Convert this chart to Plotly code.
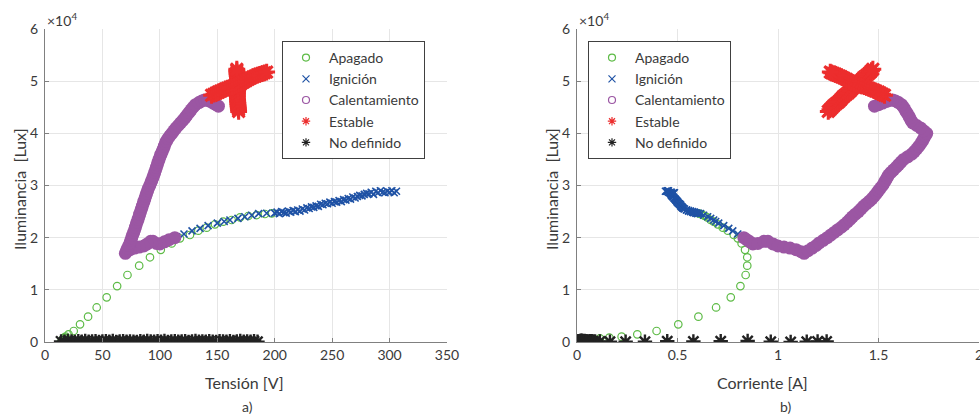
import plotly.graph_objects as go

# ---------------- data ----------------
# Apagado (lamp off): voltage [V], current [A], illuminance [lux]
apagado_v = [14, 14.5, 15, 15.5, 16, 16.8, 18, 20.5, 25, 30.5, 37.5, 45, 53.7, 62.8, 71.8, 82, 91.4,
             100.8, 110.3, 117.5, 126.2, 133.5, 140.8, 148, 155.2, 162.5, 169.8, 177, 184.3, 191.5, 197.4]
apagado_i = [0.02, 0.035, 0.05, 0.073, 0.114, 0.161, 0.222, 0.30, 0.396, 0.504, 0.604, 0.692, 0.765,
             0.813, 0.839, 0.847, 0.847, 0.836, 0.819, 0.80, 0.78, 0.75, 0.725, 0.70, 0.68, 0.665,
             0.648, 0.636, 0.626, 0.615, 0.605]
apagado_lux = [50, 150, 300, 380, 700, 830, 1020, 1470, 2110, 3390, 4860, 6620, 8560, 10720, 12840,
               14630, 16240, 17660, 18900, 19870, 20510, 21340, 21910, 22560, 23060, 23390, 23900,
               24150, 24340, 24540, 24670]

# Ignición (ignition)
ignicion_v = [114.6, 121, 128, 135, 142, 150, 156, 161, 168, 174, 180, 186, 193,
              200, 202, 204, 206, 208, 210, 212, 214, 216, 218,
              220, 222, 224, 226, 228, 230, 232, 234, 236, 238,
              240, 242, 244, 246, 248, 250, 252, 254, 256, 258,
              260, 262, 264, 266, 268, 270, 272, 274, 276, 278,
              280, 282, 284, 286, 288, 290, 292, 294, 296, 298,
              300, 302, 304, 306]
ignicion_i = [0.827, 0.80, 0.775, 0.755, 0.73, 0.705, 0.69, 0.68, 0.665, 0.65, 0.63, 0.615, 0.605,
              0.595, 0.585, 0.60, 0.575, 0.58, 0.59, 0.565, 0.575, 0.555, 0.565,
              0.545, 0.555, 0.535, 0.545, 0.525, 0.53, 0.52, 0.525, 0.515, 0.52,
              0.51, 0.515, 0.505, 0.51, 0.50, 0.505, 0.498, 0.50, 0.495, 0.50,
              0.49, 0.492, 0.485, 0.488, 0.478, 0.482, 0.475, 0.47, 0.474, 0.468,
              0.465, 0.47, 0.455, 0.475, 0.445, 0.46, 0.45, 0.465, 0.48, 0.44,
              0.47, 0.455, 0.485, 0.45]
ignicion_lux = [20180, 20700, 21300, 21790, 22300, 22800, 23100, 23390, 23700, 24000, 24300, 24600, 24670,
                24700, 24900, 24600, 25000, 24800, 24700, 25100, 24900, 25200, 25000,
                25300, 25100, 25500, 25300, 25700, 25600, 25900, 25800, 26100, 26000,
                26400, 26300, 26600, 26500, 26800, 26600, 26900, 26800, 27100, 26900,
                27300, 27200, 27500, 27400, 27800, 27600, 27900, 28100, 28000, 28300,
                28500, 28400, 28700, 28300, 28900, 28600, 29000, 28700, 28600, 28900,
                28700, 29000, 28600, 28900]

# Calentamiento (warm-up)
calent_v = [113, 108, 104, 100, 97, 94, 92, 89, 86, 82, 78, 74, 71, 70,
            71, 72, 73, 74, 74.8, 75.5, 76.3, 77.2, 78, 78.7,
            79.4, 80.2, 81, 81.7, 82.4, 83.2, 84, 84.7, 85.4, 86.2,
            87, 87.7, 88.5, 89.3, 90.2, 91.2, 92.1, 93, 93.9, 94.8,
            95.5, 96.3, 97, 97.8, 98.5, 99.3, 100.1, 101, 102, 103,
            103.8, 104.6, 105.7, 107, 108.7, 110.5, 112.2, 114, 116, 118,
            120, 122, 123.7, 125.5, 127.2, 129,
            131, 134, 136.5, 139, 141.5, 144, 146.5, 149, 151]
calent_i = [0.83, 0.845, 0.86, 0.875, 0.90, 0.93, 0.95, 0.975, 1.00, 1.03, 1.06, 1.09, 1.115, 1.13,
            1.15, 1.17, 1.19, 1.205, 1.225, 1.245, 1.262, 1.28, 1.297, 1.315,
            1.33, 1.345, 1.358, 1.37, 1.385, 1.40, 1.413, 1.425, 1.44, 1.455,
            1.468, 1.48, 1.49, 1.50, 1.51, 1.52, 1.528, 1.535, 1.543, 1.55,
            1.562, 1.575, 1.588, 1.60, 1.612, 1.625, 1.645, 1.665, 1.678, 1.69,
            1.70, 1.71, 1.718, 1.725, 1.733, 1.74, 1.725, 1.71, 1.69, 1.67,
            1.662, 1.655, 1.648, 1.64, 1.632, 1.625,
            1.615, 1.60, 1.585, 1.57, 1.555, 1.54, 1.52, 1.50, 1.48]
calent_lux = [20000, 19600, 19200, 18800, 18900, 19300, 19300, 18800, 18400, 18200, 18000, 17700, 17300, 17000,
              17500, 18000, 18500, 19000, 19500, 20000, 20500, 21000, 21500, 22000,
              22500, 23000, 23500, 24000, 24500, 25000, 25500, 26000, 26500, 27000,
              27500, 28000, 28500, 29000, 29500, 30000, 30500, 31000, 31500, 32000,
              32500, 33000, 33500, 34000, 34500, 35000, 35500, 36000, 36500, 37000,
              37500, 38000, 38500, 39000, 39500, 40000, 40500, 41000, 41500, 42000,
              42500, 43000, 43500, 44000, 44500, 45000,
              45500, 45900, 46200, 46400, 46300, 46100, 45800, 45500, 45200]

# Estable (steady state)
estable_v = [168.6, 168.5, 168.3, 168.2, 168, 167.9, 167.8, 167.7, 167.6, 167.5, 167.5, 167.5, 167.6, 167.7,
             167.8, 167.9, 168, 168, 168, 167.9, 167.8, 167.6, 167.5, 167.3, 167.2, 167.1, 167, 167,
             145, 147, 149, 151, 153, 155, 157, 159, 161, 163, 165, 167, 169,
             171, 173, 175, 177, 179, 181, 183, 185, 187, 189, 191, 193]
estable_i = [1.25, 1.258, 1.265, 1.273, 1.28, 1.29, 1.30, 1.308, 1.315, 1.322, 1.33, 1.34, 1.35, 1.358,
             1.365, 1.372, 1.38, 1.39, 1.40, 1.408, 1.415, 1.422, 1.43, 1.44, 1.45, 1.458, 1.465, 1.472,
             1.53, 1.52, 1.51, 1.50, 1.487, 1.475, 1.462, 1.45, 1.44, 1.43, 1.415, 1.40, 1.39,
             1.378, 1.365, 1.352, 1.34, 1.328, 1.315, 1.305, 1.295, 1.285, 1.275, 1.267, 1.26]
estable_lux = [44200, 44500, 44800, 45100, 45400, 45700, 46000, 46300, 46600, 46900, 47200, 47500, 47800, 48100,
               48400, 48700, 49000, 49300, 49600, 49900, 50200, 50500, 50800, 51100, 51400, 51700, 52000, 52300,
               47300, 47500, 47700, 47900, 48100, 48300, 48500, 48650, 48800, 48950, 49100, 49250, 49400,
               49600, 49850, 50100, 50350, 50600, 50850, 51000, 51150, 51300, 51450, 51600, 51750]

# No definido (undefined state)
nodef_v = [14, 17, 20, 23, 26, 29, 32, 35, 38, 41,
           44, 47, 50, 53, 56, 59, 62, 65, 68, 71,
           74, 77, 80, 83, 86, 89, 92, 95, 98, 101,
           104, 107, 110, 113, 116, 119, 122, 125, 128, 131,
           134, 137, 140, 143, 146, 149, 152, 155, 158, 161,
           164, 167, 170, 173, 176, 179, 182, 185]
nodef_i = [0.005, 0.012, 0.02, 0.031, 0.008, 0.015, 0.04, 0.022, 0.01, 0.114,
           0.03, 0.018, 0.05, 0.007, 0.164, 0.026, 0.06, 0.013, 0.035, 0.242,
           0.009, 0.045, 0.02, 0.073, 0.338, 0.016, 0.028, 0.055, 0.449, 0.011,
           0.038, 0.024, 0.579, 0.065, 0.014, 0.033, 0.715, 0.019, 0.042, 0.849,
           0.027, 0.08, 0.964, 0.012, 0.036, 1.063, 0.021, 0.09, 1.143, 0.017,
           0.048, 1.197, 0.025, 0.058, 1.242, 0.01, 0.032, 0.044]
nodef_lux = [120, 60, 180, 90, 30, 150, 70, 200, 40, 110,
             160, 20, 90, 140, 60, 190, 30, 100, 170, 50,
             120, 80, 10, 150, 60, 200, 90, 40, 130, 70,
             180, 20, 110, 160, 50, 90, 140, 30, 100, 190,
             60, 120, 40, 170, 80, 20, 150, 100, 60, 130,
             30, 90, 180, 50, 110, 70, 140, 40]

# ---------------- styling ----------------
FONT = "Lato"
TXT = "#3a3a3a"
AX = "#808080"
GRID = "#e6e6e6"
GREEN = "#5dbb46"
BLUE = "#1f52a5"
PURPLE = "#9b56a3"
RED = "#ec2d2d"
BLACK = "#222222"

series = [
    # name, x-left, x-right, lux, color, symbol, size, line width
    ("Apagado", apagado_v, apagado_i, apagado_lux, GREEN, "circle-open", 7.5, 1.2),
    ("Ignición", ignicion_v, ignicion_i, ignicion_lux, BLUE, "x-thin-open", 7, 1.6),
    ("Calentamiento", calent_v, calent_i, calent_lux, PURPLE, "circle", 13, 0),
    ("Estable", estable_v, estable_i, estable_lux, RED, "asterisk-open", 14, 3.0),
    ("No definido", nodef_v, nodef_i, nodef_lux, BLACK, "asterisk-open", 12, 2.4),
]
legend_symbols = {
    "Apagado": "circle-open", "Ignición": "x-thin-open", "Calentamiento": "circle-open",
    "Estable": "asterisk-open", "No definido": "asterisk-open",
}

fig = go.Figure()

for name, xv, xi, lux, color, sym, size, lw in series:
    for xdata, xa, ya in ((xv, "x", "y"), (xi, "x2", "y2")):
        mk = dict(symbol=sym, size=size, color=color, line=dict(color=color, width=lw))
        fig.add_trace(go.Scatter(x=xdata, y=lux, mode="markers", marker=mk, xaxis=xa, yaxis=ya,
                                 showlegend=False, hoverinfo="skip"))
for name, xv, xi, lux, color, sym, size, lw in series:
    for xa, ya, leg in (("x", "y", "legend"), ("x2", "y2", "legend2")):
        fig.add_trace(go.Scatter(x=[None], y=[None], mode="markers", name=name, legend=leg,
                                 xaxis=xa, yaxis=ya,
                                 marker=dict(symbol=legend_symbols[name], size=7, color=color,
                                             line=dict(color=color, width=1.2))))

y_dom = [1 - 342 / 414, 1 - 29 / 414]
axis_common = dict(showgrid=True, gridcolor=GRID, gridwidth=1, showline=True, linecolor=AX,
                   linewidth=1, ticks="inside", ticklen=4, tickcolor=AX, zeroline=False,
                   tickfont=dict(family=FONT, size=14, color=TXT), mirror=False, automargin=False)

lux_ticks = [0, 10000, 20000, 30000, 40000, 50000, 60000]
lux_text = ["0", "1", "2", "3", "4", "5", "6"]

legend_common = dict(yanchor="top", xanchor="left", bgcolor="white", bordercolor="#404040",
                     borderwidth=1, font=dict(family=FONT, size=14, color=TXT), itemwidth=36)

fig.update_layout(
    width=980, height=414, autosize=False,
    margin=dict(l=0, r=0, t=0, b=0, autoexpand=False),
    paper_bgcolor="white", plot_bgcolor="white",
    font=dict(family=FONT, color=TXT),
    xaxis=dict(domain=[45 / 980, 447 / 980], range=[0, 350], tickvals=[0, 50, 100, 150, 200, 250, 300, 350],
               anchor="y", **axis_common),
    yaxis=dict(domain=y_dom, range=[0, 60000], tickvals=lux_ticks, ticktext=lux_text, anchor="x",
               ticklabelstandoff=3, **axis_common),
    xaxis2=dict(domain=[577 / 980, 979 / 980], range=[0, 2], tickvals=[0, 0.5, 1, 1.5, 2],
                ticktext=["0", "0.5", "1", "1.5", "2"], anchor="y2", ticklabeloverflow="allow",
                **axis_common),
    yaxis2=dict(domain=y_dom, range=[0, 60000], tickvals=lux_ticks, ticktext=lux_text, anchor="x2",
                ticklabelstandoff=3, **axis_common),
    legend=dict(x=282 / 980, y=1 - 41 / 414, **legend_common),
    legend2=dict(x=588 / 980, y=1 - 41 / 414, **legend_common),
)

ann = []
for x0 in (45, 577):
    ann.append(dict(text="×10<sup>4</sup>", x=x0 / 980, y=1 - 20 / 414, xref="paper", yref="paper",
                    xanchor="left", yanchor="middle", showarrow=False,
                    font=dict(family=FONT, size=14, color=TXT)))
for txt, xc in (("Tensión [V]", 244), ("Corriente [A]", 762)):
    ann.append(dict(text=txt, x=xc / 980, y=1 - 382 / 414, xref="paper", yref="paper",
                    xanchor="center", yanchor="middle", showarrow=False,
                    font=dict(family=FONT, size=16, color=TXT)))
for xc in (19, 551):
    ann.append(dict(text="Iluminancia\u00a0 [Lux]", x=xc / 980, y=1 - 189 / 414, xref="paper",
                    yref="paper", xanchor="center", yanchor="middle", textangle=-90, showarrow=False,
                    font=dict(family=FONT, size=16, color=TXT)))
for txt, xc in (("a)", 247), ("b)", 785)):
    ann.append(dict(text=txt, x=xc / 980, y=1 - 406 / 414, xref="paper", yref="paper",
                    xanchor="center", yanchor="middle", showarrow=False,
                    font=dict(family=FONT, size=14, color=TXT)))
fig.update_layout(annotations=ann)

fig.write_html("out.html")
